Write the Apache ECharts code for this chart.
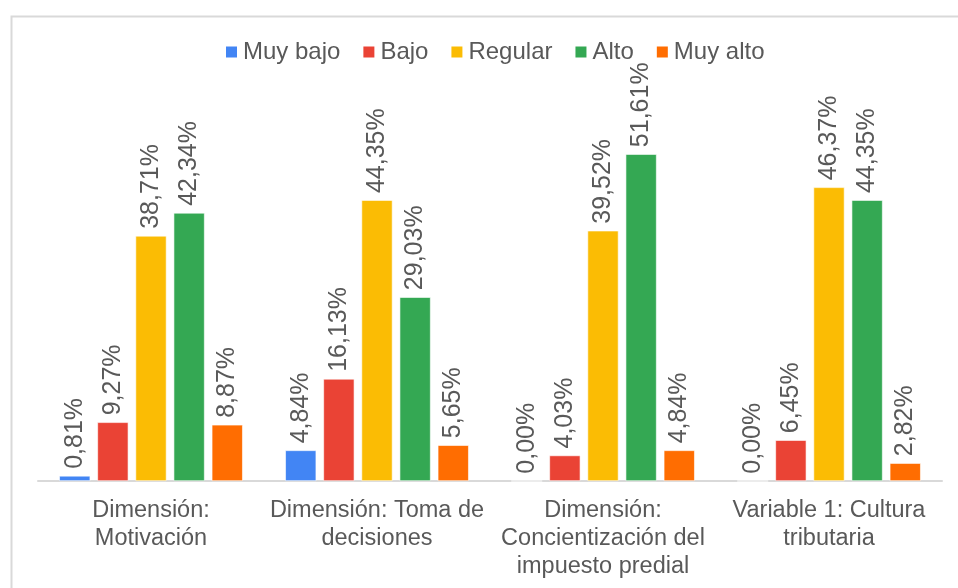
<!DOCTYPE html>
<html>
<head>
<meta charset="utf-8">
<style>
  html, body { margin: 0; padding: 0; background: #fff; }
  #chart { width: 958px; height: 588px; }
</style>
<script src="https://cdn.jsdelivr.net/npm/echarts@6/dist/echarts.min.js"></script>
</head>
<body>
<div id="chart"></div>
<script>
// categorias (con salto de linea como en el grafico original)
const categories = [
  'Dimensión:\nMotivación',
  'Dimensión: Toma de\ndecisiones',
  'Dimensión:\nConcientización del\nimpuesto predial',
  'Variable 1: Cultura\ntributaria'
]
const seriesNames = ['Muy bajo', 'Bajo', 'Regular', 'Alto', 'Muy alto']
const muyBajo = [0.81, 4.84, 0.00, 0.00]
const bajo = [9.27, 16.13, 4.03, 6.45]
const regular = [38.71, 44.35, 39.52, 46.37]
const alto = [42.34, 29.03, 51.61, 44.35]
const muyAlto = [8.87, 5.65, 4.84, 2.82]
const colors = ['#4285F4', '#EA4335', '#FBBC04', '#34A853', '#FF6D01']

;(function(){
  const dom = document.getElementById('chart')
  const chart = echarts.init(dom)
  const font = 'Liberation Sans, Arial, sans-serif'
  const values = [muyBajo, bajo, regular, alto, muyAlto]

  const series = seriesNames.map((name, i) => ({
    name: name,
    type: 'bar',
    barWidth: 31,
    barGap: '23%',
    data: values[i],
    itemStyle: { color: colors[i], borderColor: '#fff', borderWidth: 0.6 },
    label: {
      show: true,
      position: 'top',
      distance: 7,
      rotate: 90,
      align: 'left',
      verticalAlign: 'middle',
      color: '#595959',
      fontFamily: font,
      fontSize: 25,
      formatter: p => p.value.toFixed(2).replace('.', ',') + '%'
    }
  }))

  const option = {
    animation: false,
    color: colors,
    graphic: [{
      type: 'rect',
      left: 9, top: 14,
      shape: { width: 1000, height: 1000 },
      style: { fill: 'none', stroke: '#d9d9d9', lineWidth: 2 }
    }],
    legend: {
      top: 40,
      left: 224,
      padding: 0,
      icon: 'rect',
      itemWidth: 13,
      itemHeight: 13,
      itemGap: 21,
      textStyle: { color: '#595959', fontFamily: font, fontSize: 24 },
      data: seriesNames
    },
    grid: { left: 38, right: 16, top: 101, bottom: 107 },
    xAxis: {
      type: 'category',
      data: categories,
      axisLine: { lineStyle: { color: '#d9d9d9', width: 2 } },
      axisTick: { show: false },
      axisLabel: {
        interval: 0,
        margin: 16,
        color: '#595959',
        fontFamily: font,
        fontSize: 23.5,
        lineHeight: 28
      }
    },
    yAxis: {
      type: 'value',
      min: 0,
      max: 60,
      show: false,
      splitLine: { show: false }
    },
    series: series
  }
  chart.setOption(option)
  window.addEventListener('resize', () => chart.resize())
})()
</script>
</body>
</html>
